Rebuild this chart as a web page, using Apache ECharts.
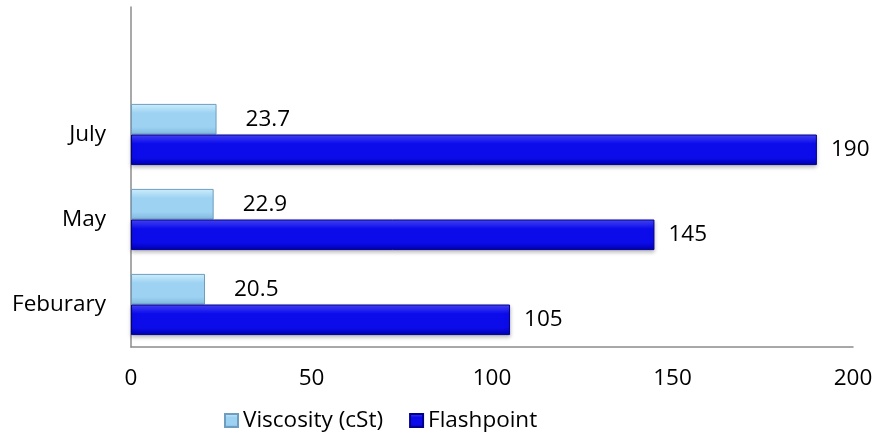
<!DOCTYPE html>
<html><head><meta charset="utf-8">
<script src="https://cdn.jsdelivr.net/npm/echarts@6/dist/echarts.min.js"></script>
<style>html,body{margin:0;padding:0;background:#fff}#c{width:877px;height:433px}</style>
</head><body><div id="c"></div>
<script>
const categories = ['Feburary', 'May', 'July', ''];
const viscosity = [20.5, 22.9, 23.7, null];
const flashpoint = [105, 145, 190, null];
const xTicks = { min: 0, max: 200, interval: 50 };

const FONT = 'Open Sans';
const chart = echarts.init(document.getElementById('c'));
const grad = (top, mid, bot) => new echarts.graphic.LinearGradient(0, 0, 0, 1, [
  { offset: 0, color: top }, { offset: 0.3, color: mid }, { offset: 0.75, color: mid }, { offset: 1, color: bot }
]);
const lightFill = grad('#cdeefd', '#9dd2f2', '#7fb8de');
const darkFill = grad('#4848ff', '#0c0ceb', '#0000b0');
chart.setOption({
  animation: false,
  textStyle: { fontFamily: FONT },
  grid: { left: 131, right: 24, top: 7, bottom: 86 },
  legend: {
    top: 404, left: 219, itemWidth: 13, itemHeight: 13, itemGap: 26, icon: 'rect',
    textStyle: { fontSize: 22.5, color: '#000', fontFamily: FONT },
    data: ['Viscosity (cSt)', 'Flashpoint']
  },
  xAxis: {
    type: 'value', min: xTicks.min, max: xTicks.max, interval: xTicks.interval,
    axisLine: { show: true, lineStyle: { color: '#8c8c8c', width: 1.5 } },
    axisTick: { show: false }, splitLine: { show: false },
    axisLabel: { fontSize: 22.5, color: '#000', margin: 20, fontFamily: FONT }
  },
  yAxis: {
    type: 'category', data: categories,
    axisLine: { show: true, lineStyle: { color: '#8c8c8c', width: 1.5 } },
    axisTick: { show: false },
    axisLabel: { fontSize: 22.5, color: '#000', margin: 25, fontFamily: FONT }
  },
  series: [
    {
      name: 'Viscosity (cSt)', type: 'bar', data: viscosity, barCategoryGap: '28%', barGap: '0%',
      itemStyle: { color: lightFill, borderColor: '#6d9ec0', borderWidth: 1 },
      label: { show: true, position: 'right', distance: 29, fontSize: 22.5, color: '#000', fontFamily: FONT }
    },
    {
      name: 'Flashpoint', type: 'bar', data: flashpoint,
      itemStyle: { color: darkFill, borderColor: '#00008a', borderWidth: 1,
        shadowColor: 'rgba(0,0,0,0.25)', shadowBlur: 4, shadowOffsetY: 2 },
      label: { show: true, position: 'right', distance: 14, fontSize: 22.5, color: '#000', fontFamily: FONT }
    }
  ]
});
</script></body></html>
